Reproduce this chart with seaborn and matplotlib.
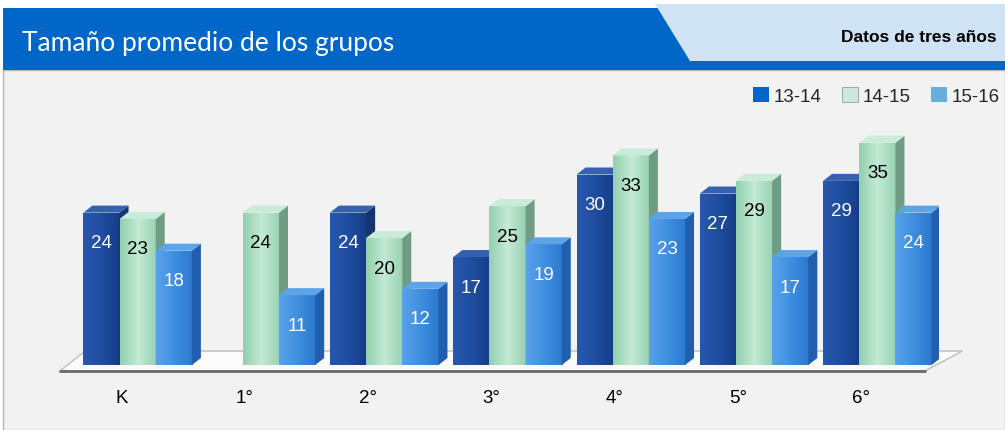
import numpy as np
import pandas as pd
import seaborn as sns
import matplotlib.pyplot as plt
import matplotlib.transforms as mtransforms
from matplotlib.patches import Polygon, Rectangle, Patch
from matplotlib.colors import LinearSegmentedColormap, to_rgb

# datos
grados = ['K', '1°', '2°', '3°', '4°', '5°', '6°']
ciclos = ['13-14', '14-15', '15-16']
v_1314 = [24, np.nan, 24, 17, 30, 27, 29]
v_1415 = [23, 24, 20, 25, 33, 29, 35]
v_1516 = [18, 11, 12, 19, 23, 17, 24]

df = pd.DataFrame({
    'grado': grados * 3,
    'ciclo': [c for c in ciclos for _ in grados],
    'valor': v_1314 + v_1415 + v_1516,
})

# colores: base, (izq, centro, der), lado, tapa, texto
estilos = {
    '13-14': dict(base='#1E4C9E', grad=['#2858AD', '#1F4DA0', '#163C88'], lado='#14356F', tapa='#3561B0', txt='white'),
    '14-15': dict(base='#A8DCC0', grad=['#93CFAF', '#C3EAD5', '#98D2B3'], lado='#6F9C84', tapa='#C9EBD9', txt='black'),
    '15-16': dict(base='#3D8EE0', grad=['#5AA2EA', '#3F8FE0', '#2C78CE'], lado='#1F5FAE', tapa='#5DA3E8', txt='white'),
}
colores_leyenda = ['#0066CC', '#CCE8DC', '#66AEE0']

W, H = 1005, 431
def fx(px):
    return px / W
def fy(py):
    return 1 - py / H

sns.set_theme(style='white')
plt.rcParams['font.family'] = ['Liberation Sans', 'DejaVu Sans']

fig = plt.figure(figsize=(10.05, 4.31), dpi=100, facecolor='white')

# fondo del panel y encabezado
fig.patches.append(Rectangle((fx(3), 0), 1 - fx(3), fy(71), transform=fig.transFigure,
                             facecolor='#F2F2F2', edgecolor='#B8B8B8', lw=1, zorder=-3))
fig.patches.append(Rectangle((fx(3), fy(71)), 1 - fx(3), fy(9) - fy(71), transform=fig.transFigure,
                             facecolor='#0066C8', edgecolor='none', zorder=-2))
fig.patches.append(Polygon([(fx(655), fy(5)), (1, fy(5)), (1, fy(62)), (fx(690), fy(62))],
                           closed=True, transform=fig.transFigure,
                           facecolor='#CFE3F5', edgecolor='none', zorder=-1))
fig.text(fx(22), fy(43), 'Tamaño promedio de los grupos', color='white', fontsize=19,
         family=['Lato', 'DejaVu Sans'], weight='normal', va='center', ha='left', zorder=5)
fig.text(fx(997), fy(37), 'Datos de tres años', color='black', fontsize=12.5,
         weight='bold', va='center', ha='right', zorder=5)

# ejes
px_unit = 6.35
y0_px, top_px = 366, 100
ax = fig.add_axes([fx(76), fy(y0_px), fx(939) - fx(76), fy(top_px) - fy(y0_px)])
ax.set_facecolor('none')
ax.set_zorder(1)

sns.barplot(data=df, x='grado', y='valor', hue='ciclo', hue_order=ciclos,
            palette=[estilos[c]['base'] for c in ciclos], width=0.88, saturation=1,
            legend=False, ax=ax, zorder=3)

# piso
piso = Polygon([(-0.63, -0.94), (6.385, -0.94), (6.69, 2.2), (-0.427, 2.2)], closed=True,
               facecolor='#FBFBFB', edgecolor='#BDBDBD', lw=1, clip_on=False, zorder=1)

# efecto 3D sobre las barras dibujadas por seaborn
dx = 9 / 123.3
dy = 7 / px_unit
pal = {c: np.array(to_rgb(estilos[c]['base'])) for c in ciclos}
for bar in list(ax.patches):
    x0, w, h = bar.get_x(), bar.get_width(), bar.get_height()
    if not np.isfinite(h) or h <= 0:
        continue
    fc = np.array(bar.get_facecolor()[:3])
    ciclo = min(ciclos, key=lambda c: np.abs(pal[c] - fc).sum())
    st = estilos[ciclo]
    z = 3 + ciclos.index(ciclo) * 0.5
    x1 = x0 + w
    bar.set_zorder(z)
    bar.set_edgecolor('none')
    cmap = LinearSegmentedColormap.from_list(ciclo, st['grad'])
    im = ax.imshow(np.linspace(0, 1, 64).reshape(1, -1), cmap=cmap, aspect='auto',
                   extent=[x0, x1, 0, h], zorder=z + 0.01, interpolation='bicubic')
    im.set_clip_path(bar)
    ax.add_patch(Polygon([(x1, 0), (x1 + dx, dy), (x1 + dx, h + dy), (x1, h)], closed=True,
                         facecolor=st['lado'], edgecolor='none', zorder=z + 0.02))
    ax.add_patch(Polygon([(x0, h), (x0 + dx, h + dy), (x1 + dx, h + dy), (x1, h)], closed=True,
                         facecolor=st['tapa'], edgecolor='none', zorder=z + 0.03))
    ax.text(x0 + w / 2, h - 30 / px_unit, f'{h:.0f}', color=st['txt'], fontsize=13.5,
            ha='center', va='center', zorder=10)

ax.add_patch(piso)
ax.plot([-0.63, 6.385], [-0.98, -0.98], color='#6A6A6A', lw=2, clip_on=False, zorder=1.5)

ax.set_xlim(-0.5, 6.5)
ax.set_ylim(0, (y0_px - top_px) / px_unit)
ax.set_xlabel('')
ax.set_ylabel('')
ax.set_yticks([])
for s in ax.spines.values():
    s.set_visible(False)
ax.tick_params(axis='x', length=0, pad=17, labelsize=13.5, labelcolor='black')
desplaza = mtransforms.ScaledTranslation(-16 / 100, 0, fig.dpi_scale_trans)
for lbl in ax.get_xticklabels():
    lbl.set_transform(lbl.get_transform() + desplaza)

# leyenda
manejadores = [Patch(facecolor=c, edgecolor='#9A9A9A' if i == 1 else 'none', lw=0.6)
               for i, c in enumerate(colores_leyenda)]
fig.legend(manejadores, ciclos, loc='center right', bbox_to_anchor=(fx(1000), fy(97)),
           ncol=3, frameon=False, handlelength=0.85, handleheight=0.85, handletextpad=0.25,
           columnspacing=1.1, fontsize=13.5, borderaxespad=0, borderpad=0)

fig.savefig('out.png', dpi=100, facecolor=fig.get_facecolor())
